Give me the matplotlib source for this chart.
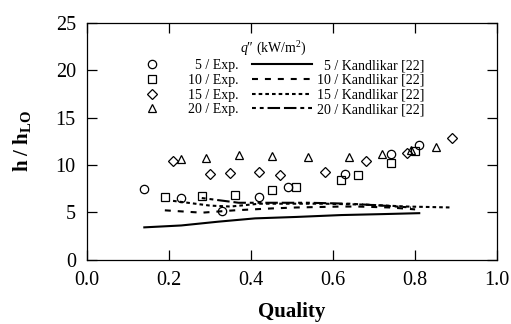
import numpy as np
import matplotlib
matplotlib.use("Agg")
import matplotlib.pyplot as plt

plt.rcParams['font.family'] = ['Liberation Serif', 'DejaVu Serif']
plt.rcParams['mathtext.fontset'] = 'custom'
plt.rcParams['mathtext.rm'] = 'Liberation Serif'
plt.rcParams['mathtext.it'] = 'Liberation Serif:italic'
plt.rcParams['mathtext.bf'] = 'Liberation Serif:bold'
plt.rcParams['lines.scale_dashes'] = False

# Experimental data, h/h_LO vs quality
x_q5 = [0.14, 0.23, 0.33, 0.42, 0.49, 0.63, 0.74, 0.81]
y_q5 = [7.5, 6.5, 5.1, 6.6, 7.7, 9.0, 11.2, 12.1]
x_q10 = [0.19, 0.28, 0.36, 0.45, 0.51, 0.62, 0.66, 0.74, 0.80]
y_q10 = [6.6, 6.75, 6.8, 7.4, 7.7, 8.4, 8.9, 10.2, 11.5]
x_q15 = [0.21, 0.30, 0.35, 0.42, 0.47, 0.58, 0.68, 0.78, 0.89]
y_q15 = [10.4, 9.0, 9.1, 9.2, 8.9, 9.2, 10.4, 11.3, 12.8]
x_q20 = [0.23, 0.29, 0.37, 0.45, 0.54, 0.64, 0.72, 0.79, 0.85]
y_q20 = [10.6, 10.7, 11.1, 10.9, 10.8, 10.8, 11.2, 11.6, 11.9]

# Kandlikar [22] correlation
xk5 = [0.14, 0.23, 0.32, 0.41, 0.51, 0.62, 0.72, 0.81]
yk5 = [3.4, 3.6, 4.0, 4.35, 4.5, 4.7, 4.8, 4.9]
xk10 = [0.19, 0.28, 0.36, 0.45, 0.51, 0.62, 0.66, 0.74, 0.80]
yk10 = [5.2, 4.95, 5.2, 5.4, 5.5, 5.6, 5.6, 5.5, 5.3]
xk15 = [0.21, 0.30, 0.35, 0.42, 0.47, 0.58, 0.68, 0.78, 0.89]
yk15 = [6.2, 5.7, 5.6, 5.9, 5.9, 5.9, 5.8, 5.6, 5.5]
xk20 = [0.28, 0.37, 0.45, 0.54, 0.64, 0.72, 0.79]
yk20 = [6.5, 6.0, 6.0, 6.0, 5.9, 5.7, 5.5]

fs = '\u2007'  # figure space to right-align single digits

fig = plt.figure(figsize=(5.11, 3.24), dpi=100)
ax = fig.add_axes([0.170, 0.199, 0.803, 0.730])

mk = dict(linestyle='none', markerfacecolor='none', markeredgecolor='black', markeredgewidth=0.9)
h1, = ax.plot(x_q5, y_q5, marker='o', markersize=6, label=fs + '5 / Exp.', **mk)
h2, = ax.plot(x_q10, y_q10, marker='s', markersize=6, label='10 / Exp.', **mk)
h3, = ax.plot(x_q15, y_q15, marker='D', markersize=5.5, label='15 / Exp.', **mk)
h4, = ax.plot(x_q20, y_q20, marker='^', markersize=5.5, label='20 / Exp.', **mk)

l1, = ax.plot(xk5, yk5, color='black', lw=1.5, label=fs + '5 / Kandlikar [22]')
l2, = ax.plot(xk10, yk10, color='black', lw=1.5, dashes=(4.3, 5.0), label='10 / Kandlikar [22]')
l3, = ax.plot(xk15, yk15, color='black', lw=1.5, dashes=(2.6, 2.2), label='15 / Kandlikar [22]')
l4, = ax.plot(xk20, yk20, color='black', lw=1.5, dashes=(2.8, 2.8, 2.8, 2.8, 9.0, 2.8, 9.0, 2.8),
              label='20 / Kandlikar [22]')

ax.set_xlim(0, 1.0)
ax.set_ylim(0, 25)
ax.set_xticks(np.arange(0, 1.01, 0.2))
ax.set_yticks(np.arange(0, 26, 5))
ax.set_xticklabels(['0.0', '0.2', '0.4', '0.6', '0.8', '1.0'])
ax.tick_params(direction='in', length=7, width=0.9, top=True, right=True, labelsize=14.5, pad=8)
for s in ax.spines.values():
    s.set_linewidth(0.9)

ax.set_xlabel('Quality', fontsize=15, fontweight='bold', labelpad=9)
ax.set_ylabel(r'h / h$_\mathbf{LO}$', fontsize=15, fontweight='bold', labelpad=16)

handles = [h1, h2, h3, h4, l1, l2, l3, l4]
leg = ax.legend(handles, [h.get_label() for h in handles],
                ncol=2, frameon=False, fontsize=10, numpoints=1,
                handlelength=4.3, handletextpad=0.4, columnspacing=1.0,
                labelspacing=0.12, loc='upper left', bbox_to_anchor=(0.053, 0.99),
                title="$q$\u2033 (kW/m$^2$)", title_fontsize=10, borderaxespad=0.6)

fig.savefig('out.png', dpi=100)
